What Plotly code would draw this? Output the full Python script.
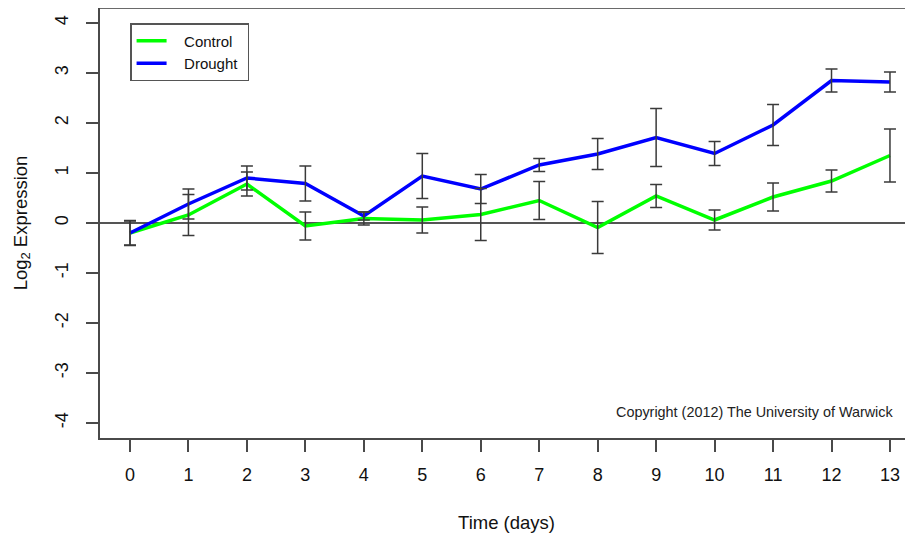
import plotly.graph_objects as go

days = list(range(14))
tick_labels = [str(d) for d in days]
control = [-0.20, 0.16, 0.78, -0.06, 0.09, 0.06, 0.17, 0.45, -0.09, 0.54, 0.06, 0.52, 0.84, 1.35]
control_err = [0.24, 0.41, 0.24, 0.28, 0.13, 0.26, 0.52, 0.38, 0.52, 0.23, 0.20, 0.28, 0.22, 0.53]
drought = [-0.20, 0.38, 0.90, 0.79, 0.14, 0.94, 0.68, 1.16, 1.38, 1.71, 1.39, 1.96, 2.85, 2.82]
drought_err = [0.25, 0.30, 0.24, 0.35, 0.08, 0.45, 0.29, 0.13, 0.31, 0.58, 0.24, 0.41, 0.23, 0.20]
y_ticks = [-4, -3, -2, -1, 0, 1, 2, 3, 4]
y_tick_labels = ["-4", "-3", "-2", "-1", "0", "1", "2", "3", "4"]
series_names = ["Control", "Drought"]

FONT = "Liberation Sans, Arial, Helvetica, sans-serif"
AX = "#4a4a4a"
ERR = "#3a3a3a"
NB = "\u00a0"

fig = go.Figure()
fig.add_trace(go.Scatter(x=days, y=control, mode="lines",
                         name=NB * 3 + series_names[0] + NB,
                         line=dict(color="#00ff00", width=3.5)))
fig.add_trace(go.Scatter(x=days, y=drought, mode="lines",
                         name=NB * 3 + series_names[1] + NB,
                         line=dict(color="#0000ff", width=3.5)))
for vals, errs in ((control, control_err), (drought, drought_err)):
    fig.add_trace(go.Scatter(
        x=days, y=vals, mode="markers", showlegend=False, hoverinfo="skip",
        marker=dict(size=1, opacity=0),
        error_y=dict(type="data", array=errs, visible=True, color=ERR,
                     thickness=1.5, width=6)))

fig.add_shape(type="line", xref="paper", yref="paper", x0=0, x1=1, y0=1, y1=1,
              line=dict(color="#6a6a6a", width=2))

fig.add_annotation(text="Copyright (2012) The University of Warwick",
                   xref="paper", yref="paper", x=0.979, y=0.0605,
                   xanchor="right", yanchor="middle", showarrow=False,
                   font=dict(family=FONT, size=14.4, color="#222"))

fig.update_layout(
    width=905, height=532,
    margin=dict(l=92, r=0, t=0, b=102, pad=0, autoexpand=False),
    paper_bgcolor="white", plot_bgcolor="white",
    font=dict(family=FONT, color="#111"),
    legend=dict(x=0.037, y=0.965, xanchor="left", yanchor="top",
                bordercolor="#555", borderwidth=1.5, bgcolor="white",
                font=dict(family=FONT, size=15, color="#111"),
                tracegroupgap=0, itemwidth=30),
    xaxis=dict(range=[-0.513, 13.394], tickmode="array", tickvals=days,
               ticktext=tick_labels, showgrid=False, zeroline=False,
               automargin=False,
               showline=True, linecolor=AX, linewidth=1.5,
               ticks="outside", ticklen=12, tickwidth=1.5, tickcolor=AX,
               tickfont=dict(family=FONT, size=18, color="#111"),
               ticklabelstandoff=8,
               title=dict(text="Time (days)", standoff=32,
                          font=dict(family=FONT, size=18.5, color="#111"))),
    yaxis=dict(range=[-4.3, 4.3], tickmode="array", tickvals=y_ticks,
               ticktext=y_tick_labels,
               showgrid=False, zeroline=True, zerolinecolor="#555",
               zerolinewidth=1.5, automargin=False,
               showline=True, linecolor=AX, linewidth=1.5,
               ticks="outside", ticklen=12, tickwidth=1.5, tickcolor=AX,
               tickangle=-90,
               tickfont=dict(family=FONT, size=18, color="#111"),
               ticklabelstandoff=11,
               title=dict(text="Log<sub>2</sub> Expression", standoff=20,
                          font=dict(family=FONT, size=18.5, color="#111"))),
)

fig.write_html("out.html", post_script="document.body.style.overflow='hidden';")
